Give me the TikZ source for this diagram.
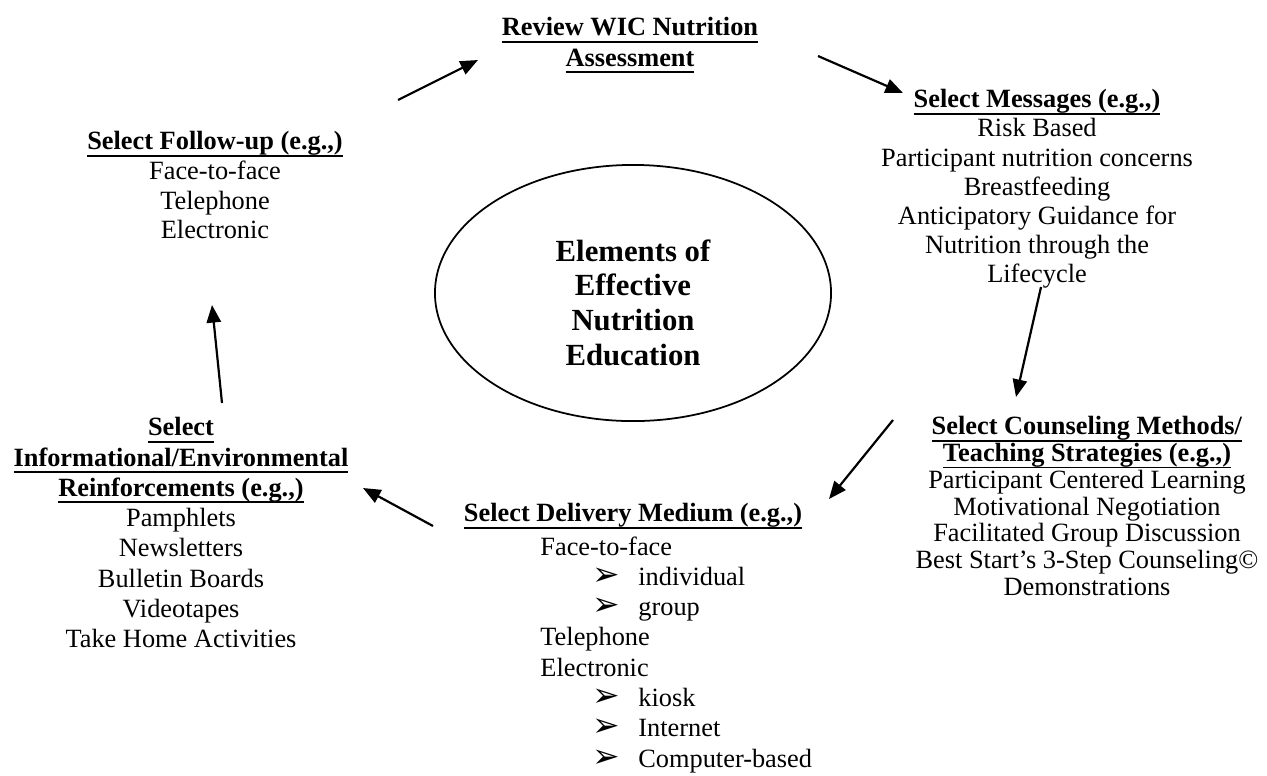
\documentclass[tikz,border=0pt]{standalone}
\usepackage{fontspec}
\setmainfont{Liberation Serif}
\newfontfamily\symfont{DejaVu Sans}
\usetikzlibrary{shapes.geometric, arrows.meta, positioning}

\newsavebox{\hdbox}
\newcommand{\hd}[1]{\sbox{\hdbox}{\textbf{#1}}\rlap{\rule[-3.1pt]{\wd\hdbox}{0.8pt}}\usebox{\hdbox}}
\newcommand{\bul}{{\symfont\fontsize{15}{15}\selectfont ➢}}
\newcommand{\bitem}[1]{\hspace*{23.7pt}\makebox[20.9pt][l]{\bul}#1}

\begin{document}
\begin{tikzpicture}[
    x=0.016cm, y=-0.016cm,
    block/.style={align=center, inner sep=0pt, anchor=north, font=\fontsize{12}{13.8}\selectfont},
    flow/.style={-{Triangle[length=8pt,width=6.5pt]}, line width=1pt}
]
\useasboundingbox (0,0) rectangle (1267,775);

% Centre of the cycle
\node[ellipse, draw, line width=0.8pt, minimum width=6.34cm, minimum height=4.1cm, inner sep=0pt, align=center, font=\bfseries\fontsize{14}{15.8}\selectfont] (core) at (633,293) {\rule{0pt}{18.6pt}Elements of\\Effective\\Nutrition\\Education};

% Steps round the cycle
\node[block] (review) at (630,17) {\hd{Review WIC Nutrition}\\\hd{Assessment}};
\node[block, font=\fontsize{12}{13.3}\selectfont] (messages) at (1037,89) {\hd{Select Messages (e.g.,)}\\Risk Based\\Participant nutrition concerns\\Breastfeeding\\Anticipatory Guidance for\\Nutrition through the\\Lifecycle};
\node[block, font=\fontsize{12}{12.2}\selectfont] (methods) at (1087,416) {\hd{Select Counseling Methods/}\\\hd{Teaching Strategies (e.g.,)}\\Participant Centered Learning\\Motivational Negotiation\\Facilitated Group Discussion\\Best Start’s 3-Step Counseling©\\Demonstrations};
\node[block] (medium) at (633,503) {\hd{Select Delivery Medium (e.g.,)}};
\node[block, anchor=north west, align=left] (mediumlist) at (540,536) {Face-to-face\\\bitem{individual}\\\bitem{group}\\Telephone\\Electronic\\\bitem{kiosk}\\\bitem{Internet}\\\bitem{Computer-based}};
\node[block] (reinforce) at (181,417) {\hd{Select}\\\hd{Informational/Environmental}\\\hd{Reinforcements (e.g.,)}\\Pamphlets\\Newsletters\\Bulletin Boards\\Videotapes\\Take Home Activities};
\node[block, font=\fontsize{12}{13.5}\selectfont] (followup) at (215,131) {\hd{Select Follow-up (e.g.,)}\\Face-to-face\\Telephone\\Electronic};

% Arrow ends
\coordinate (followup-out) at (398,100);
\coordinate (review-in) at (478,60);
\coordinate (review-out) at (818,56);
\coordinate (messages-in) at (903,93);
\coordinate (messages-out) at (1041,287);
\coordinate (methods-in) at (1016,397);
\coordinate (methods-out) at (893,420);
\coordinate (medium-in) at (829,499);
\coordinate (medium-out) at (433,526);
\coordinate (reinforce-in) at (363,488);
\coordinate (reinforce-out) at (222,403);
\coordinate (followup-in) at (212,305);

% Arrows
\draw[flow] (followup-out) -- (review-in);
\draw[flow] (review-out) -- (messages-in);
\draw[flow] (messages-out) -- (methods-in);
\draw[flow] (methods-out) -- (medium-in);
\draw[flow] (medium-out) -- (reinforce-in);
\draw[flow] (reinforce-out) -- (followup-in);

\end{tikzpicture}
\end{document}
